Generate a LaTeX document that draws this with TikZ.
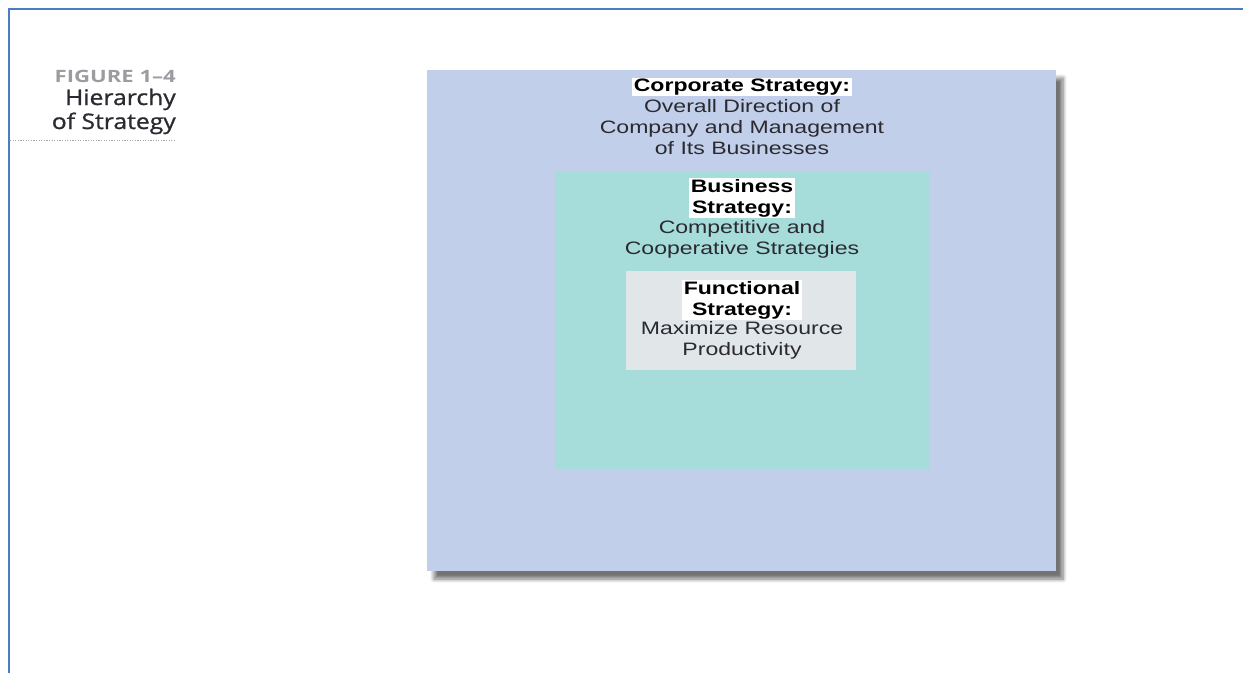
\documentclass[tikz,border=0pt]{standalone}
\usepackage{fontspec}
\usetikzlibrary{shadows.blur}
\newfontfamily\boxfont[FakeStretch=1.28]{Liberation Sans}
\newfontfamily\capfont[FakeStretch=1.15, FakeBold=1]{Open Sans}
\newfontfamily\numfont[FakeStretch=1.3]{Open Sans}
\definecolor{rulblue}{HTML}{4A7EC2}
\definecolor{corpfill}{HTML}{C2CFEA}
\definecolor{busfill}{HTML}{A6DCDA}
\definecolor{funcfill}{HTML}{E1E6E9}
\definecolor{txt}{HTML}{2A2A30}
\definecolor{figgrey}{HTML}{9A9CA0}
\tikzset{
  level/.style={draw=none, inner sep=0pt, outer sep=0pt},
  title/.style={fill=white, text=black, inner xsep=2pt, inner ysep=1pt, align=center,
    font=\boxfont\bfseries\fontsize{18}{21}\selectfont},
  body/.style={text=txt, inner sep=0pt, align=center,
    font=\boxfont\fontsize{18}{21}\selectfont},
  caption/.style={anchor=base east, inner sep=0pt},
}
\begin{document}
\begin{tikzpicture}[x=1pt, y=-1pt]
\useasboundingbox (0,0) rectangle (1243,673);
% page frame rules
\coordinate (tl) at (9,9);
\coordinate (tr) at (1243,9);
\coordinate (bl) at (9,673);
\draw[rulblue, line width=2.2pt] (tr) -- (tl) -- (bl);

% figure caption
\node[caption, text=figgrey, font=\numfont\bfseries\fontsize{17}{18}\selectfont] (fignum) at (176,82) {FIGURE 1–4};
\node[caption, text=txt, font=\capfont\fontsize{21.5}{24}\selectfont] (fighead1) at (176,105) {Hierarchy};
\node[caption, text=txt, font=\capfont\fontsize{21.5}{24}\selectfont] (fighead2) at (176,129) {of Strategy};
\coordinate (dl) at (10,140);
\coordinate (dr) at (176,140);
\draw[gray!70, line width=0.8pt, dash pattern=on 1.2pt off 1.4pt] (dl) -- (dr);

% nested strategy levels
\path[level, fill=corpfill, blur shadow={shadow xshift=7pt, shadow yshift=-8pt, shadow blur radius=4pt, shadow blur steps=8, shadow opacity=55}]
  (427,70) rectangle (1056,571);
\node[level, fill=busfill, minimum width=375pt, minimum height=297pt, anchor=north west] (bus) at (555,172) {};
\node[level, fill=funcfill, minimum width=230pt, minimum height=99pt, anchor=north west] (func) at (626,271) {};

% corporate level text
\node[title] (corpT) at (742,87) {Corporate Strategy:};
\node[body] (corpB) at (742,127) {Overall Direction of\\Company and Management\\of Its Businesses};

% business level text
\node[title] (busT) at (742,198) {Business\\Strategy:};
\node[body] (busB) at (742,239) {Competitive and\\Cooperative Strategies};

% functional level text
\node[title] (funcT) at (742,300) {Functional\\Strategy:};
\node[body] (funcB) at (742,340.5) {Maximize Resource\\Productivity};
\end{tikzpicture}
\end{document}
